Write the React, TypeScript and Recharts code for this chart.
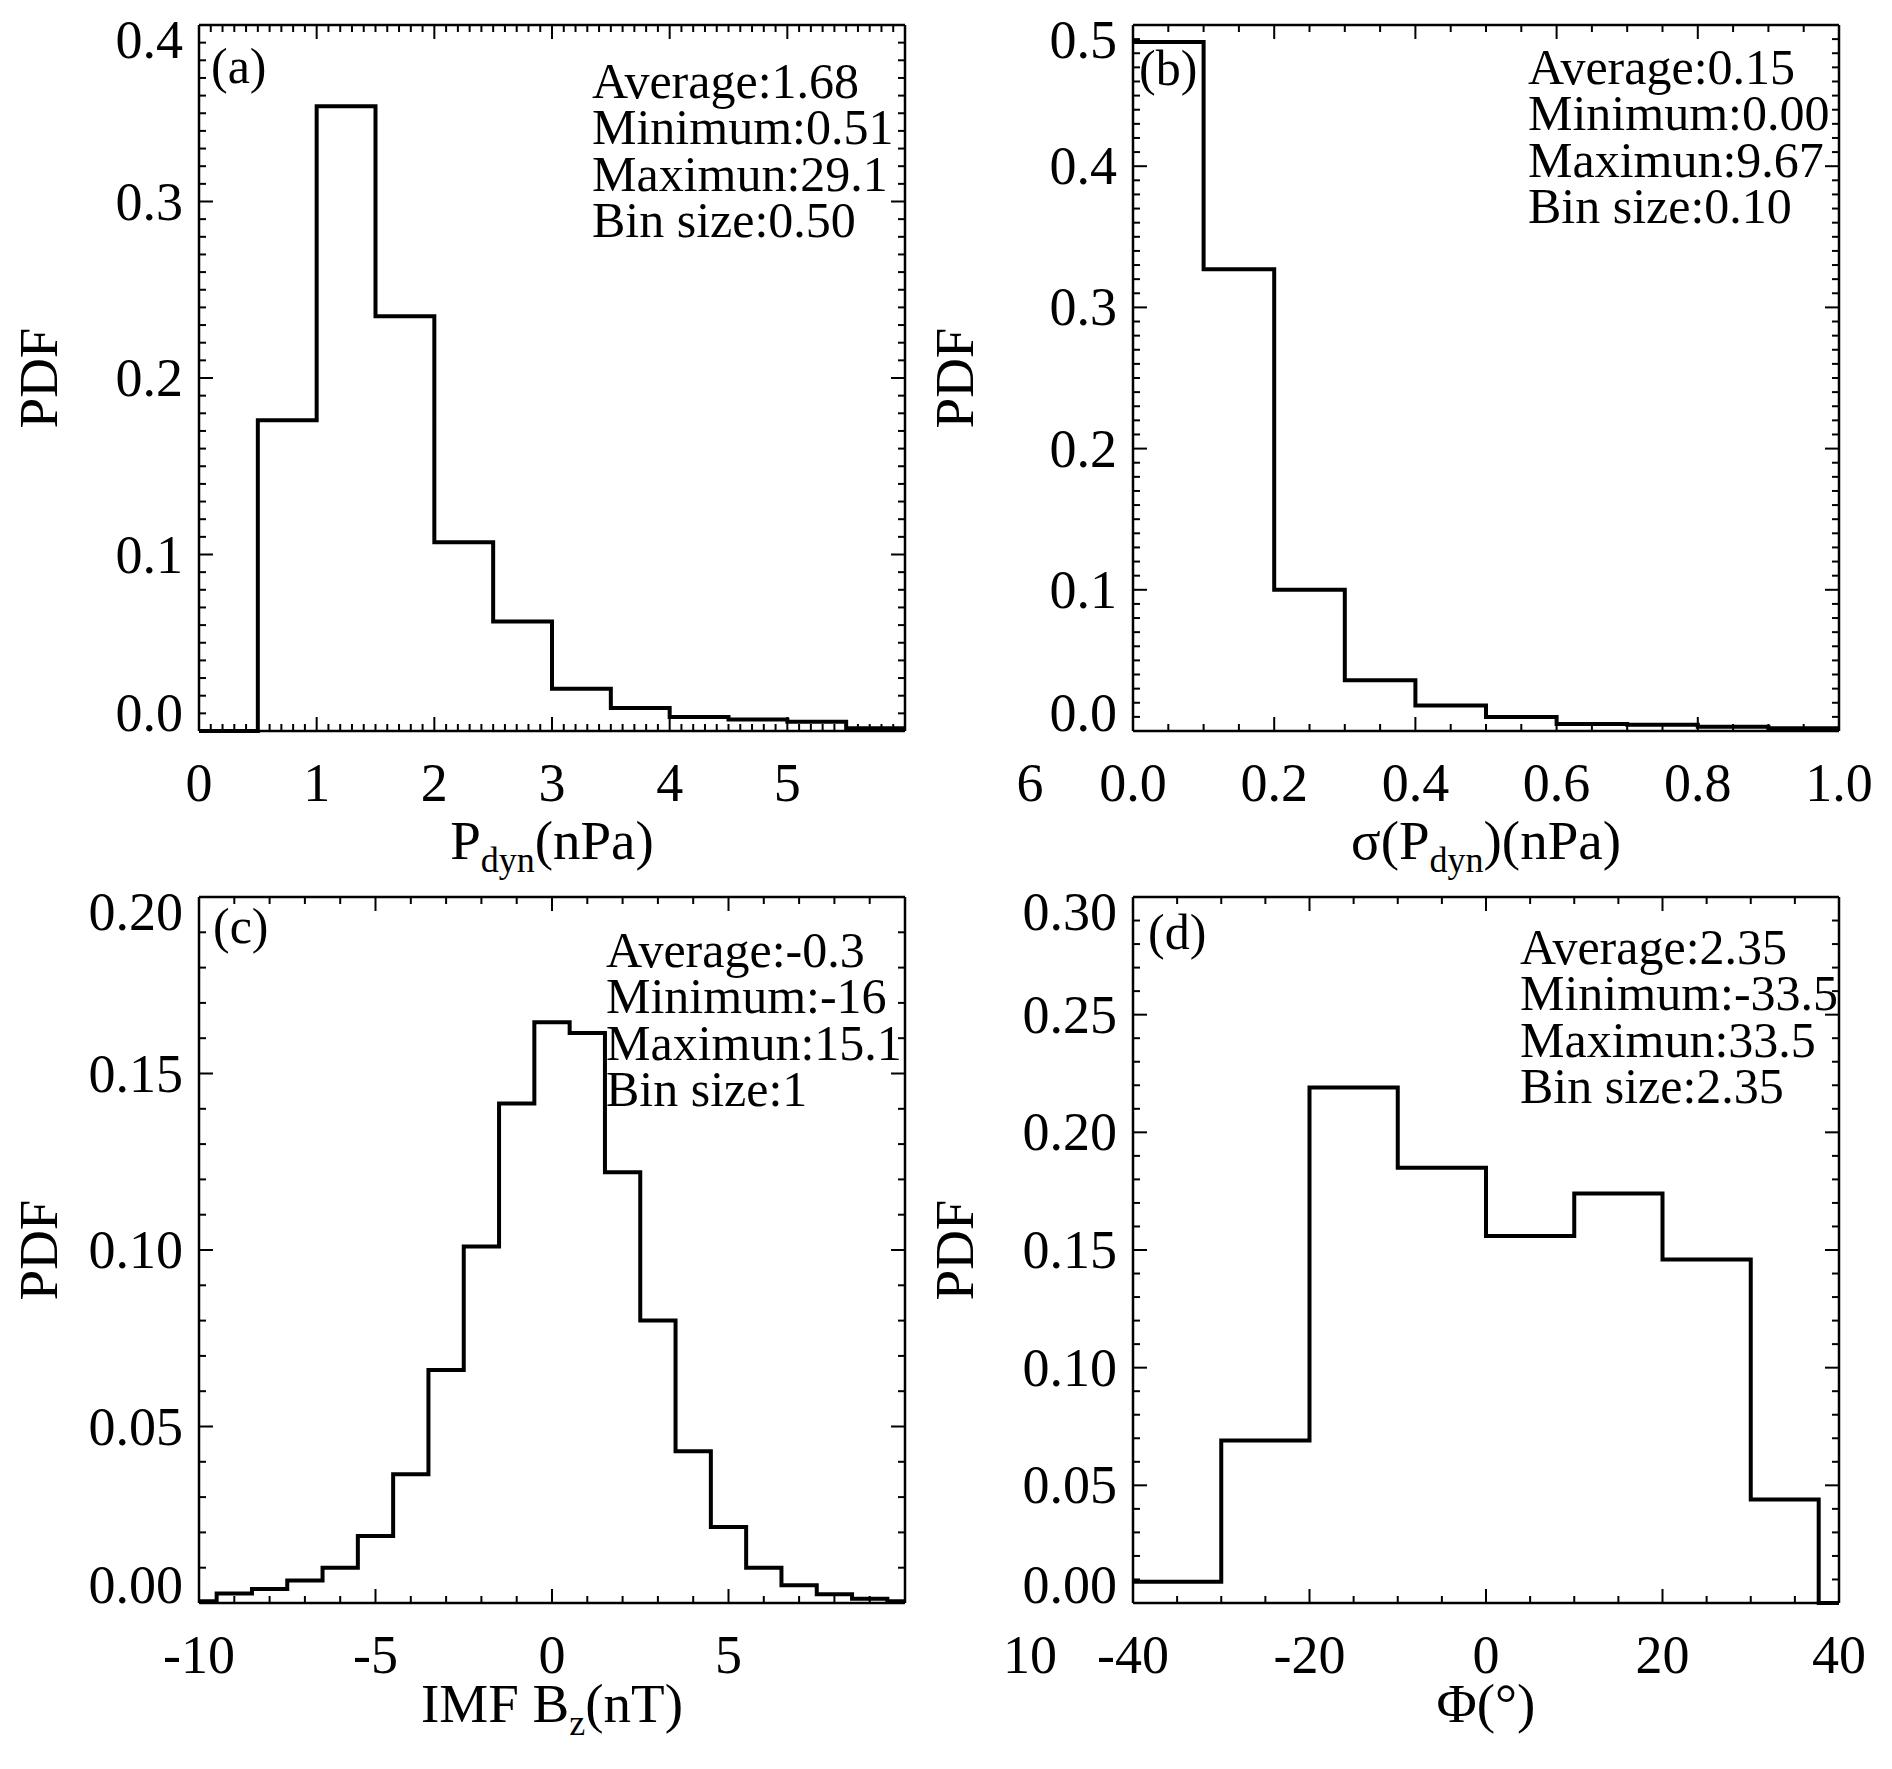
import React from 'react';
import { LineChart, Line, XAxis, YAxis } from 'recharts';

const FONT = '"Liberation Serif", "Times New Roman", serif';

// (a) dynamic pressure, bin 0.5
const pdynEdges = [0, 0.5, 1, 1.5, 2, 2.5, 3, 3.5, 4, 4.5, 5, 5.5, 6];
const pdynPdf = [0, 0.176, 0.354, 0.235, 0.107, 0.062, 0.024, 0.013, 0.008, 0.0065, 0.0053, 0.0015];
const pdynXTicks = [0, 1, 2, 3, 4, 5, 6];
const pdynYTicks = [0, 0.1, 0.2, 0.3, 0.4];
const pdynStats = ['Average:1.68', 'Minimum:0.51', 'Maximun:29.1', 'Bin size:0.50'];

// (b) sigma of dynamic pressure, bin 0.1
const sigmaEdges = [0, 0.1, 0.2, 0.3, 0.4, 0.5, 0.6, 0.7, 0.8, 0.9, 1.0];
const sigmaPdf = [0.488, 0.327, 0.1, 0.036, 0.018, 0.01, 0.005, 0.0045, 0.003, 0.002];
const sigmaXTicks = [0, 0.2, 0.4, 0.6, 0.8, 1.0];
const sigmaYTicks = [0, 0.1, 0.2, 0.3, 0.4, 0.5];
const sigmaStats = ['Average:0.15', 'Minimum:0.00', 'Maximun:9.67', 'Bin size:0.10'];

// (c) IMF Bz, bin 1
const bzEdges = [-10, -9.5, -8.5, -7.5, -6.5, -5.5, -4.5, -3.5, -2.5, -1.5, -0.5, 0.5, 1.5, 2.5, 3.5, 4.5, 5.5, 6.5, 7.5, 8.5, 9.5, 10];
const bzPdf = [0.0005, 0.0027, 0.004, 0.0064, 0.01, 0.019, 0.0365, 0.066, 0.101, 0.1415, 0.1645, 0.1615, 0.122, 0.08, 0.043, 0.0215, 0.01, 0.005, 0.0025, 0.0012, 0.0005];
const bzXTicks = [-10, -5, 0, 5, 10];
const bzYTicks = [0, 0.05, 0.1, 0.15, 0.2];
const bzStats = ['Average:-0.3', 'Minimum:-16', 'Maximun:15.1', 'Bin size:1'];

// (d) clock angle
const phiEdges = [-40, -30, -20, -10, 0, 10, 20, 30, 37.7, 40];
const phiPdf = [0.009, 0.069, 0.219, 0.185, 0.156, 0.174, 0.146, 0.044, 0];
const phiXTicks = [-40, -20, 0, 20, 40];
const phiYTicks = [0, 0.05, 0.1, 0.15, 0.2, 0.25, 0.3];
const phiStats = ['Average:2.35', 'Minimum:-33.5', 'Maximun:33.5', 'Bin size:2.35'];

const toSteps = (edges: number[], pdf: number[]) =>
  edges.map((x, i) => ({ x, pdf: pdf[Math.min(i, pdf.length - 1)] }));

const range = (lo: number, hi: number, step: number) => {
  const out: number[] = [];
  const n = Math.round((hi - lo) / step);
  for (let i = 0; i <= n; i++) out.push(Math.round((lo + i * step) * 1e6) / 1e6);
  return out;
};

const near = (a: number, b: number) => Math.abs(a - b) < 1e-7;

function AxisTick(props: any) {
  const { x, y, payload, side, majors, fmt, lastShift } = props;
  const v = payload.value;
  const major = majors.some((m: number) => near(m, v));
  const len = major ? 14 : 7;
  let line;
  if (side === 'bottom') line = <line x1={x} y1={y} x2={x} y2={y - len} />;
  else if (side === 'top') line = <line x1={x} y1={y} x2={x} y2={y + len} />;
  else if (side === 'left') line = <line x1={x} y1={y} x2={x + len} y2={y} />;
  else line = <line x1={x} y1={y} x2={x - len} y2={y} />;

  let label = null;
  if (fmt && major) {
    const first = near(v, majors[0]);
    const last = near(v, majors[majors.length - 1]);
    if (side === 'bottom') {
      label = (
        <text x={x + (last ? lastShift || 0 : 0)} y={y + 70} textAnchor="middle" fontSize={54} fontFamily={FONT} fill="#000" stroke="none">
          {fmt(v)}
        </text>
      );
    } else if (side === 'left') {
      const dy = first ? 0 : last ? 33 : 18;
      label = (
        <text x={x - 16} y={y + dy} textAnchor="end" fontSize={54} fontFamily={FONT} fill="#000" stroke="none">
          {fmt(v)}
        </text>
      );
    }
  }
  return (
    <g stroke="#000" strokeWidth={2}>
      {line}
      {label}
    </g>
  );
}

type PanelProps = {
  left: number;
  top: number;
  data: { x: number; pdf: number }[];
  xDomain: [number, number];
  yDomain: [number, number];
  xMajors: number[];
  yMajors: number[];
  xMinor: number;
  yMinor: number;
  xFmt: (v: number) => string;
  yFmt: (v: number) => string;
  lastShift: number;
};

function Panel(p: PanelProps) {
  const xt = range(p.xDomain[0], p.xDomain[1], p.xMinor);
  const yt = range(p.yDomain[0], p.yDomain[1], p.yMinor);
  const axisLine = { stroke: '#000', strokeWidth: 2.5 };
  return (
    <div style={{ position: 'absolute', left: p.left, top: p.top }}>
      <LineChart width={1100} height={880} data={p.data} margin={{ top: 5, right: 175, bottom: 89, left: 119 }}>
        <XAxis xAxisId="b" dataKey="x" type="number" domain={p.xDomain} ticks={xt} interval={0} height={60}
          tickSize={0} tickMargin={0} tickLine={false} axisLine={axisLine}
          tick={(t: any) => <AxisTick {...t} side="bottom" majors={p.xMajors} fmt={p.xFmt} lastShift={p.lastShift} />} />
        <XAxis xAxisId="t" orientation="top" dataKey="x" type="number" domain={p.xDomain} allowDataOverflow ticks={xt} interval={0} height={20}
          tickSize={0} tickMargin={0} tickLine={false} axisLine={axisLine}
          tick={(t: any) => <AxisTick {...t} side="top" majors={p.xMajors} />} />
        <YAxis yAxisId="l" type="number" domain={p.yDomain} ticks={yt} interval={0} width={80}
          tickSize={0} tickMargin={0} tickLine={false} axisLine={axisLine}
          tick={(t: any) => <AxisTick {...t} side="left" majors={p.yMajors} fmt={p.yFmt} />} />
        <YAxis yAxisId="r" orientation="right" type="number" domain={p.yDomain} allowDataOverflow ticks={yt} interval={0} width={20}
          tickSize={0} tickMargin={0} tickLine={false} axisLine={axisLine}
          tick={(t: any) => <AxisTick {...t} side="right" majors={p.yMajors} />} />
        <Line xAxisId="b" yAxisId="l" type="stepAfter" dataKey="pdf" stroke="#000" strokeWidth={4}
          strokeLinejoin="miter" dot={false} activeDot={false} isAnimationActive={false} />
      </LineChart>
    </div>
  );
}

const Stats = ({ x, y, lines }: { x: number; y: number; lines: string[] }) => (
  <>
    {lines.map((s, i) => (
      <text key={s} x={x} y={y + i * 46.3} fontSize={50}>{s}</text>
    ))}
  </>
);

const int = (v: number) => String(Math.round(v));
const f1 = (v: number) => v.toFixed(1);
const f2 = (v: number) => v.toFixed(2);

export default function App() {
  return (
    <div style={{ position: 'absolute', left: 0, top: 0, width: 1892, height: 1769, overflow: 'hidden', background: '#fff' }}>
      <Panel left={0} top={0} data={toSteps(pdynEdges, pdynPdf)} xDomain={[0, 6]} yDomain={[0, 0.4]}
        xMajors={pdynXTicks} yMajors={pdynYTicks} xMinor={0.1} yMinor={0.01} xFmt={int} yFmt={f1} lastShift={125} />
      <Panel left={934} top={0} data={toSteps(sigmaEdges, sigmaPdf)} xDomain={[0, 1]} yDomain={[0, 0.5]}
        xMajors={sigmaXTicks} yMajors={sigmaYTicks} xMinor={0.05} yMinor={0.01} xFmt={f1} yFmt={f1} lastShift={0} />
      <Panel left={0} top={872} data={toSteps(bzEdges, bzPdf)} xDomain={[-10, 10]} yDomain={[0, 0.2]}
        xMajors={bzXTicks} yMajors={bzYTicks} xMinor={1} yMinor={0.01} xFmt={int} yFmt={f2} lastShift={125} />
      <Panel left={934} top={872} data={toSteps(phiEdges, phiPdf)} xDomain={[-40, 40]} yDomain={[0, 0.3]}
        xMajors={phiXTicks} yMajors={phiYTicks} xMinor={5} yMinor={0.01} xFmt={int} yFmt={f2} lastShift={0} />

      <svg width={1892} height={1769} style={{ position: 'absolute', left: 0, top: 0, pointerEvents: 'none' }}
        fontFamily={FONT} fill="#000">
        <text x={211} y={83} fontSize={50}>(a)</text>
        <text x={1139} y={85} fontSize={50}>(b)</text>
        <text x={213} y={943} fontSize={50}>(c)</text>
        <text x={1148} y={949} fontSize={50}>(d)</text>

        <Stats x={592} y={98} lines={pdynStats} />
        <Stats x={1528} y={84} lines={sigmaStats} />
        <Stats x={606} y={967} lines={bzStats} />
        <Stats x={1520} y={964} lines={phiStats} />

        <text transform="translate(57,378) rotate(-90)" textAnchor="middle" fontSize={55}>PDF</text>
        <text transform="translate(973,378) rotate(-90)" textAnchor="middle" fontSize={55}>PDF</text>
        <text transform="translate(57,1250) rotate(-90)" textAnchor="middle" fontSize={55}>PDF</text>
        <text transform="translate(973,1250) rotate(-90)" textAnchor="middle" fontSize={55}>PDF</text>

        <text x={552} y={859} textAnchor="middle" fontSize={55}>
          P<tspan fontSize={36} dy={13}>dyn</tspan><tspan dy={-13}>(nPa)</tspan>
        </text>
        <text x={1486} y={859} textAnchor="middle" fontSize={55}>
          σ(P<tspan fontSize={36} dy={13}>dyn</tspan><tspan dy={-13}>)(nPa)</tspan>
        </text>
        <text x={552} y={1722} textAnchor="middle" fontSize={55}>
          IMF B<tspan fontSize={36} dy={13}>z</tspan><tspan dy={-13}>(nT)</tspan>
        </text>
        <text x={1486} y={1722} textAnchor="middle" fontSize={55}>Φ(°)</text>
      </svg>
    </div>
  );
}
